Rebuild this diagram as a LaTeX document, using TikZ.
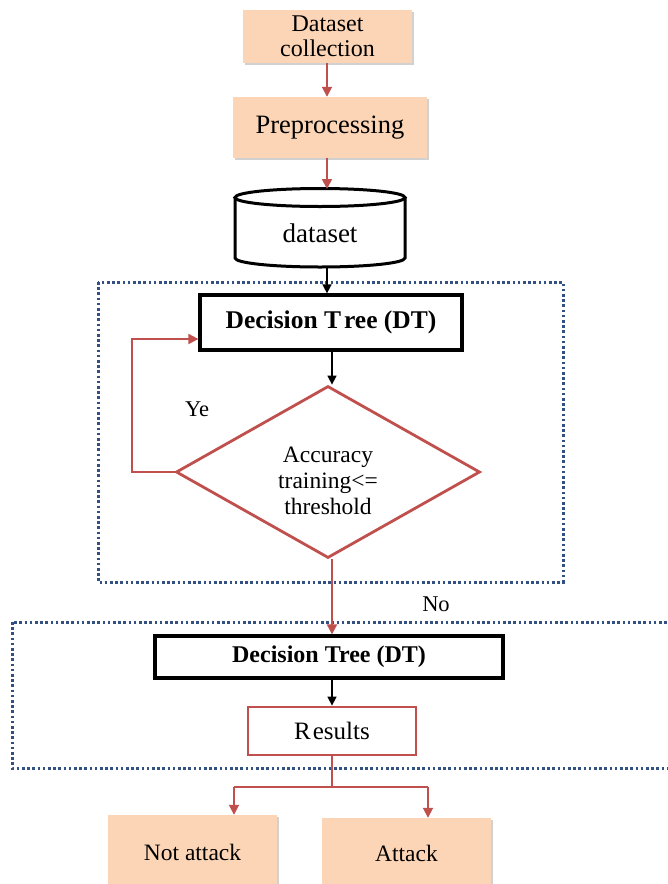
\documentclass[tikz,border=0pt]{standalone}
\usepackage{fontspec}
\setmainfont{Liberation Serif}
\usetikzlibrary{arrows.meta,shapes.geometric,shadows,calc}
\definecolor{peach}{RGB}{251,213,181}
\definecolor{arrred}{RGB}{192,80,77}
\definecolor{dotblue}{RGB}{50,80,130}
\begin{document}
\begin{tikzpicture}[x=1pt,y=-1pt,
  peachbox/.style={rectangle,fill=peach,draw=none,inner sep=0pt,align=center,
    drop shadow={shadow xshift=1.5pt,shadow yshift=-1.5pt,fill=black!40,opacity=0.45}},
  blackbox/.style={rectangle,draw=black,line width=3.2pt,fill=white,inner sep=0pt,font=\bfseries\fontsize{25.5}{28}\selectfont},
  redline/.style={draw=arrred,line width=1.8pt},
  redarrow/.style={redline,-{Triangle[length=10pt,width=10pt]}},
  blackarrow/.style={draw=black,line width=1.5pt,-{Triangle[length=9pt,width=9pt]}},
  groupbox/.style={draw=dotblue,line width=3pt,dash pattern=on 2.6pt off 2.6pt},
  lbl/.style={font=\fontsize{22.5}{26}\selectfont,inner sep=0pt}
]
\useasboundingbox (0,0) rectangle (668,884);

% groups
\draw[groupbox] (98,282) rectangle (563,582);
\draw[groupbox] (12,622) rectangle (690,768);

% nodes
\node[peachbox,minimum width=169pt,minimum height=53pt,font=\fontsize{24}{25}\selectfont] (dc) at (327.5,36.5) {Dataset\\collection};
\node[peachbox,minimum width=194pt,minimum height=61pt,font=\fontsize{26.5}{28}\selectfont] (pp) at (330,127.5) {Preprocessing};

% cylinder
\node[rectangle,minimum width=170pt,minimum height=79pt,inner sep=0pt] (ds) at (320,227.5) {};
\draw[line width=3pt,fill=white] (235,197.5) -- (235,258) arc[start angle=180,end angle=360,x radius=85,y radius=-9] -- (405,197.5);
\draw[line width=3pt,fill=white] (320,197.5) ellipse[x radius=85,y radius=9];
\node[font=\fontsize{27}{28}\selectfont,inner sep=0pt] (dstxt) at (320,233) {dataset};

\node[blackbox,minimum width=262pt,minimum height=55pt] (dt1) at (331,322.5) {Decision T\kern3pt ree (DT)};

\node[diamond,draw=arrred,line width=2.8pt,fill=white,minimum width=304pt,minimum height=172pt,aspect=1.767,inner sep=0pt] (dia) at (328,472) {};
\node[align=center,font=\fontsize{23.5}{26}\selectfont,inner sep=0pt] (diatxt) at (328,481) {Accuracy\\training<=\\threshold};

\node[lbl] (ye) at (197,409) {Ye};
\node[lbl] (no) at (436,604) {No};

\node[blackbox,minimum width=348pt,minimum height=42pt,font=\bfseries\fontsize{24}{26}\selectfont] (dt2) at (329,657) {Decision Tree (DT)};
\node[rectangle,draw=arrred,line width=2.8pt,fill=white,minimum width=168pt,minimum height=48pt,inner sep=0pt,font=\fontsize{25}{26}\selectfont] (res) at (332,731) {R\kern2pt esults};

\node[peachbox,minimum width=169pt,minimum height=74pt,font=\fontsize{23.5}{26}\selectfont] (na) at (192.5,852) {Not attack};
\node[peachbox,minimum width=169pt,minimum height=70pt,font=\fontsize{23.5}{26}\selectfont] (at) at (406.5,853) {Attack};

% connectors
\coordinate (c1) at (327,0);
\draw[redarrow] (dc.south -| c1) -- (pp.north -| c1);
\draw[redarrow] (pp.south -| c1) -- (327,189);
\draw[blackarrow] (327,266) -- (dt1.north -| c1);
\draw[blackarrow] (dt1.south -| dia.north) ++(4,0) -- ($(dia.north)+(4,0)$);
\coordinate (lp) at (132,339);
\draw[redarrow] (dia.west) -- (dia.west -| lp) -- (lp) -- (lp -| dt1.west);
\draw[redarrow] ($(dia.south)+(4,0)$) -- ($(dia.south |- dt2.north)+(4,0)$);
\draw[blackarrow] (dt2.south -| res.north) -- (res.north);
\coordinate (br) at (332,787);
\coordinate (bl) at (234,787);
\coordinate (brr) at (428,787);
\draw[redline] (res.south) -- (br);
\draw[redline] (bl) -- (brr);
\draw[redarrow] (bl) -- (bl |- na.north);
\draw[redarrow] (brr) -- (brr |- at.north);
\end{tikzpicture}
\end{document}
